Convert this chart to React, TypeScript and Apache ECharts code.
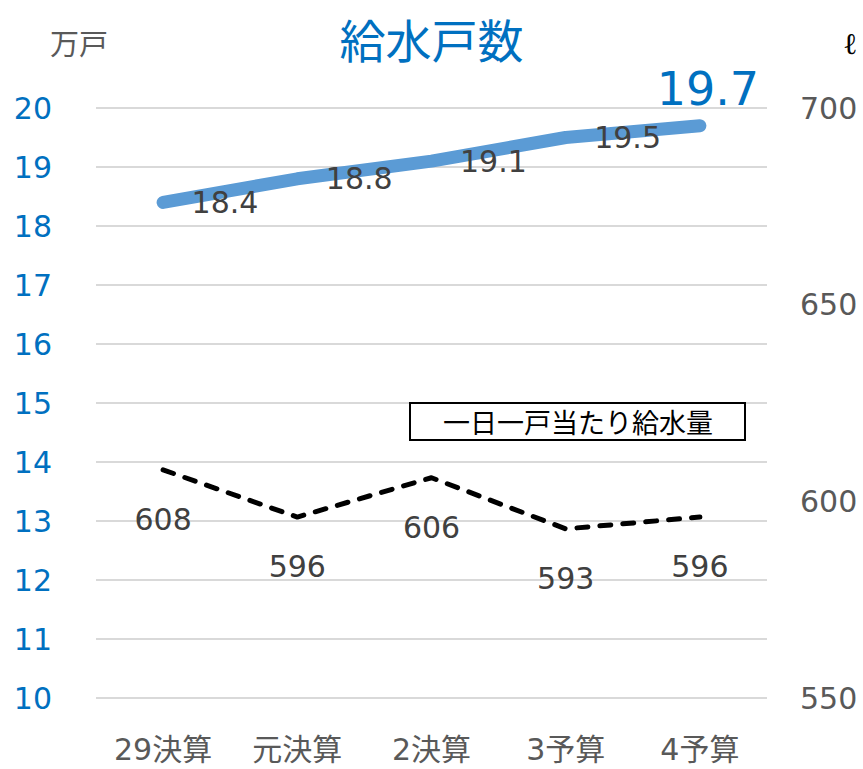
import React, { useEffect, useRef } from "react";
import * as echarts from "echarts";

const categories = ["29決算", "元決算", "2決算", "3予算", "4予算"];
const households = [18.4, 18.8, 19.1, 19.5, 19.7];
const dailyUse = [608, 596, 606, 593, 596];
const leftTicks = { min: 10, max: 20, interval: 1 };
const rightTicks = { min: 550, max: 700, interval: 50 };

const FONT = "'DejaVu Sans', 'Noto Sans CJK JP', sans-serif";
const CJK = "'Noto Sans CJK JP', sans-serif";

export default function App() {
  const ref = useRef<HTMLDivElement>(null);
  useEffect(() => {
    document.body.style.margin = "0";
    const chart = echarts.init(ref.current!, null, { renderer: "svg" });
    const lastIdx = households.length - 1;
    chart.setOption({
      animation: false,
      textStyle: { fontFamily: FONT },
      title: {
        text: "給水戸数",
        left: "center",
        top: 8,
        textStyle: { color: "#0070C0", fontSize: 46, lineHeight: 50, fontWeight: "normal", fontFamily: CJK },
      },
      grid: { left: 96, right: 96, top: 108, bottom: 71 },
      xAxis: {
        type: "category",
        data: categories,
        axisLine: { show: false },
        axisTick: { show: false },
        axisLabel: { color: "#595959", fontSize: 30, margin: 36, fontFamily: FONT },
      },
      yAxis: [
        {
          type: "value",
          min: leftTicks.min,
          max: leftTicks.max,
          interval: leftTicks.interval,
          axisLine: { show: false },
          axisTick: { show: false },
          axisLabel: { color: "#0070C0", fontSize: 30, margin: 44, fontFamily: FONT },
          splitLine: { lineStyle: { color: "#D9D9D9", width: 2 } },
        },
        {
          type: "value",
          min: rightTicks.min,
          max: rightTicks.max,
          interval: rightTicks.interval,
          axisLine: { show: false },
          axisTick: { show: false },
          axisLabel: { color: "#595959", fontSize: 30, margin: 33, fontFamily: FONT },
          splitLine: { show: false },
        },
      ],
      series: [
        {
          type: "line",
          yAxisIndex: 0,
          data: households.map((v, i) =>
            i === lastIdx
              ? {
                  value: v,
                  label: {
                    position: "top",
                    distance: 13,
                    offset: [8, 0],
                    fontSize: 46,
                    color: "#0070C0",
                  },
                }
              : v
          ),
          symbol: "circle",
          symbolSize: 1,
          showSymbol: true,
          itemStyle: { color: "rgba(0,0,0,0)" },
          lineStyle: { color: "#5B9BD5", width: 13, cap: "round", join: "round" },
          label: {
            show: true,
            position: "right",
            distance: 28,
            color: "#404040",
            fontSize: 30,
            fontFamily: FONT,
            formatter: (p: any) => Number(p.value).toFixed(1),
          },
          z: 3,
        },
        {
          type: "line",
          yAxisIndex: 1,
          data: dailyUse,
          symbol: "circle",
          symbolSize: 1,
          showSymbol: true,
          itemStyle: { color: "rgba(0,0,0,0)" },
          lineStyle: { color: "#000000", width: 5, type: [11, 12], cap: "round", join: "round" },
          label: {
            show: true,
            position: "bottom",
            distance: 34,
            color: "#404040",
            fontSize: 30,
            fontFamily: FONT,
          },
          z: 2,
        },
      ],
      graphic: [
        {
          type: "text",
          left: 50,
          top: 27,
          style: { text: "万戸", fill: "#595959", fontSize: 29, fontFamily: CJK },
        },
        {
          type: "text",
          left: 843,
          top: 28,
          style: { text: "ℓ", fill: "#000000", fontSize: 30, fontFamily: "'DejaVu Serif', serif" },
        },
        {
          type: "rect",
          shape: { x: 410, y: 403, width: 335, height: 37 },
          style: { fill: "#ffffff", stroke: "#000000", lineWidth: 2 },
          z: 10,
        },
        {
          type: "text",
          x: 578,
          y: 421,
          style: {
            text: "一日一戸当たり給水量",
            fill: "#000000",
            fontSize: 27,
            fontFamily: CJK,
            align: "center",
            verticalAlign: "middle",
          },
          z: 11,
        },
      ],
    });
    return () => chart.dispose();
  }, []);
  return <div ref={ref} style={{ width: 863, height: 769 }} />;
}
